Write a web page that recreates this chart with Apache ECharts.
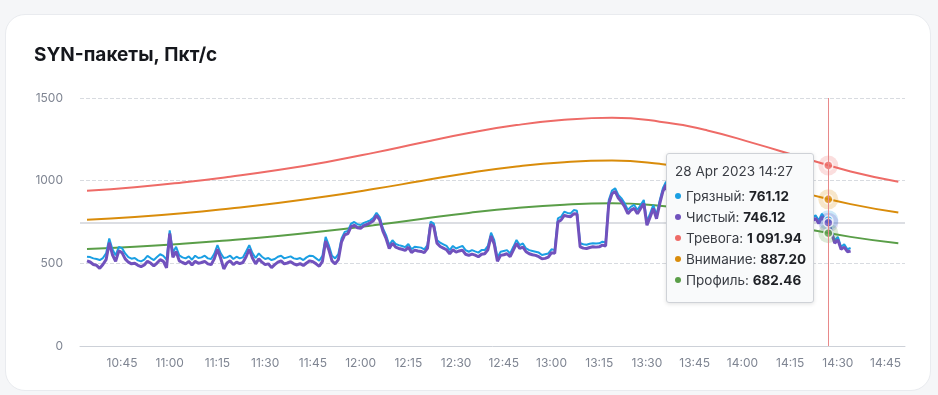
<!DOCTYPE html>
<html><head><meta charset="utf-8">
<script src="https://cdn.jsdelivr.net/npm/echarts@6.0.0/dist/echarts.min.js"></script>
<style>
html,body{margin:0;padding:0;background:#f5f6f8;width:938px;height:395px;overflow:hidden;font-family:Inter,"Noto Sans",sans-serif}
#card{position:absolute;left:5px;top:14px;width:926px;height:377px;background:#fff;border:1px solid #e9ebef;border-radius:20px;box-sizing:border-box}
#chart{position:absolute;left:0;top:0;width:938px;height:395px}
</style></head><body>
<div id="card"></div><div id="chart"></div>
<script>
// ---- data ----
const chartTitle = 'SYN-пакеты, Пкт/с';
const seriesNames = ['Грязный', 'Чистый', 'Тревога', 'Внимание', 'Профиль'];
// 1-minute samples starting 2023-04-28 10:34
const trafficStart = [2023, 3, 28, 10, 34];
const dirty = [
540,538,530,526,520,532,560,650,585,548,
600,592,560,538,528,532,518,512,522,545,
532,520,538,555,545,522,700,565,600,548,
536,530,542,522,546,532,536,546,530,526,
558,610,562,532,536,546,526,540,530,536,
572,610,562,532,560,540,526,532,520,526,
540,546,530,536,542,530,526,532,520,536,
546,544,530,516,546,660,610,546,530,556,
650,690,696,740,750,736,732,745,752,760,
775,806,780,712,671,611,640,617,610,605,
598,617,585,600,598,595,585,610,752,740,
641,625,615,605,580,605,590,598,605,580,
570,580,572,565,580,580,605,685,640,536,
570,575,580,560,600,641,610,620,590,580,
575,570,565,550,555,560,585,580,772,782,
812,805,802,822,818,621,615,612,618,621,
620,621,631,625,883,940,954,914,893,863,
823,843,853,823,853,883,752,802,853,792,
880,954,994,900,860,830,840,820,850,830,
810,820,800,830,815,805,790,820,800,810,
795,780,800,810,790,780,800,790,770,785,
790,780,770,790,800,780,770,785,790,775,
780,770,790,800,780,770,790,780,775,790,
760,800,770,761.12,700,640,660,600,615,585,
593];
const clean = [
515,508,493,488,470,493,522,625,552,512,
575,565,527,507,497,500,488,480,490,512,
502,485,502,522,512,472,680,537,572,515,
505,497,512,490,512,500,505,512,497,492,
527,585,532,466,502,515,492,507,498,505,
540,585,532,497,527,507,492,497,474,492,
507,515,497,502,510,497,490,498,487,502,
515,510,497,482,512,635,583,515,497,522,
630,672,680,722,730,715,712,728,735,745,
758,790,762,695,650,590,622,598,590,585,
578,598,565,580,575,572,565,590,735,722,
622,602,592,582,558,582,568,575,580,555,
548,556,550,540,555,558,582,665,615,512,
548,552,558,540,580,620,590,598,570,558,
552,548,540,528,530,538,565,560,750,762,
790,785,782,800,798,600,592,590,596,600,
598,600,610,605,862,920,935,895,872,842,
800,822,832,800,832,862,730,780,832,770,
860,935,975,880,840,810,820,800,830,810,
790,800,780,810,795,785,770,800,780,790,
775,760,780,790,770,760,780,770,750,765,
770,760,750,770,780,760,750,765,770,755,
760,750,770,780,760,750,770,760,755,772,
742,782,752,746.12,685,622,642,585,598,570,
575];
// thresholds, every 15 minutes starting 10:34
const thresholdStart = [2023, 3, 28, 10, 34];
const alarm   = [939,960,989,1024,1064,1112,1168,1229,1288,1336,1368,1381,1357,1304,1224,1139,1056,994];
const warning = [763,780,803,832,865,904,949,998,1047,1086,1112,1122,1102,1060,995,926,858,807];
const profile = [587,600,618,640,665,695,730,768,805,835,855,863,848,815,765,712,660,621];
// hovered moment
const hoverMoment = [2023, 3, 28, 14, 27];
const hoverValues = [761.12, 746.12, 1091.94, 887.20, 682.46];
// axis
const axisRange = [[2023, 3, 28, 10, 31, 48], [2023, 3, 28, 14, 51, 6]];
const yTicks = [0, 500, 1000, 1500];
const monthNames = ['Jan','Feb','Mar','Apr','May','Jun','Jul','Aug','Sep','Oct','Nov','Dec'];

// ---- styles ----
const colors = ['#1a9fe3', '#7152bd', '#ee6b67', '#d98c0b', '#5a9e48'];
const FONT = 'Inter, "Noto Sans", sans-serif';

function ts(a, addMin) {
  return new Date(a[0], a[1], a[2], a[3], a[4] + (addMin || 0), a[5] || 0).getTime();
}
const pad = n => (n < 10 ? '0' : '') + n;
function hhmm(v) { const d = new Date(v); return pad(d.getHours()) + ':' + pad(d.getMinutes()); }
function fmt(v) {
  const s = v.toFixed(2).split('.');
  return s[0].replace(/\B(?=(\d{3})+(?!\d))/g, ' ') + '.' + s[1];
}
const hoverTs = ts(hoverMoment);
const hd = new Date(hoverTs);
const hoverLabel = hd.getDate() + ' ' + monthNames[hd.getMonth()] + ' ' + hd.getFullYear() + ' ' + hhmm(hoverTs);

const dirtyData = dirty.map((v, i) => [ts(trafficStart, i), v]);
const cleanData = clean.map((v, i) => [ts(trafficStart, i), v]);
const thr = arr => arr.map((v, i) => [ts(thresholdStart, i * 15), v]);

const chart = echarts.init(document.getElementById('chart'), null, {renderer: 'canvas'});
const option = {
  animation: false,
  backgroundColor: 'transparent',
  title: {
    text: chartTitle, left: 29, top: 41,
    textStyle: {fontFamily: FONT, fontSize: 19, fontWeight: 700, color: '#15171c'}
  },
  grid: {left: 80, right: 33, top: 98, bottom: 49, containLabel: false, outerBoundsMode: 'none'},
  tooltip: {
    trigger: 'item', triggerOn: 'none', alwaysShowContent: true, transitionDuration: 0,
    backgroundColor: '#f9fafb', borderColor: '#cfd2d7', borderWidth: 1,
    padding: [7, 7, 11, 8],
    extraCssText: 'box-shadow:0 1px 4px rgba(0,0,0,0.12);border-radius:3px;',
    textStyle: {fontFamily: FONT, fontSize: 13.5, color: '#33363d'},
    position: (point, params, dom, rect, size) =>
      [point[0] - size.contentSize[0] - 14, point[1] - size.contentSize[1] / 2 + 5],
    formatter: () => {
      let h = '<div style="font-size:13.5px;line-height:20px;color:#3a3d44;margin-bottom:5px">' + hoverLabel + '</div>';
      seriesNames.forEach((n, i) => {
        h += '<div style="font-size:13.5px;line-height:21px;color:#3a3d44;white-space:nowrap">' +
          '<span style="display:inline-block;width:6px;height:6px;border-radius:3px;background:' + colors[i] +
          ';margin:0 5px 2px 0;vertical-align:middle"></span>' + n + ': <b style="font-weight:700;color:#1f2126">' +
          fmt(hoverValues[i]) + '</b></div>';
      });
      return h;
    }
  },
  xAxis: {
    type: 'time',
    min: ts(axisRange[0]), max: ts(axisRange[1]),
    splitNumber: 15,
    axisLine: {show: true, lineStyle: {color: '#cdd1d8', width: 1}},
    axisTick: {show: false},
    splitLine: {show: false},
    axisLabel: {
      formatter: v => hhmm(v), color: '#7f8592', fontFamily: FONT, fontSize: 12, margin: 11,
      showMinLabel: false, showMaxLabel: false
    },
    axisPointer: {
      show: true, type: 'line', value: hoverTs, status: 'show', snap: false, triggerTooltip: false,
      triggerEmphasis: false, label: {show: false}, lineStyle: {color: '#e8898a', width: 1, type: 'solid'}
    }
  },
  yAxis: {
    type: 'value', min: yTicks[0], max: yTicks[yTicks.length - 1], interval: yTicks[1] - yTicks[0],
    axisLine: {show: false}, axisTick: {show: false},
    axisLabel: {color: '#7f8592', fontFamily: FONT, fontSize: 12, margin: 17, formatter: v => String(v)},
    splitLine: {lineStyle: {type: 'dashed', color: '#d8dbe0', width: 1}},
    axisPointer: {
      show: true, type: 'line', value: hoverValues[1], status: 'show', snap: false, triggerTooltip: false,
      label: {show: false}, lineStyle: {color: '#dcdee3', width: 2, type: 'solid'}, z: 1
    }
  },
  series: [
    {name: seriesNames[0], type: 'line', data: dirtyData, showSymbol: false, symbol: 'none', silent: true,
      lineStyle: {color: colors[0], width: 2}, itemStyle: {color: colors[0]}, z: 3},
    {name: seriesNames[1], type: 'line', data: cleanData, showSymbol: false, symbol: 'none', silent: true,
      lineStyle: {color: colors[1], width: 3}, itemStyle: {color: colors[1]}, z: 4},
    {name: seriesNames[2], type: 'line', data: thr(alarm), smooth: true, showSymbol: false, symbol: 'none', silent: true,
      lineStyle: {color: colors[2], width: 2}, itemStyle: {color: colors[2]}, z: 2},
    {name: seriesNames[3], type: 'line', data: thr(warning), smooth: true, showSymbol: false, symbol: 'none', silent: true,
      lineStyle: {color: colors[3], width: 2}, itemStyle: {color: colors[3]}, z: 2},
    {name: seriesNames[4], type: 'line', data: thr(profile), smooth: true, showSymbol: false, symbol: 'none', silent: true,
      lineStyle: {color: colors[4], width: 2}, itemStyle: {color: colors[4]}, z: 2},
    {name: 'halo', type: 'scatter', symbol: 'circle', symbolSize: 20, silent: true, z: 5,
      emphasis: {disabled: true},
      data: hoverValues.map((v, i) => ({value: [hoverTs, v], itemStyle: {color: colors[i], opacity: 0.22}}))},
    {name: 'dot', type: 'scatter', symbol: 'circle', symbolSize: 9, z: 6,
      emphasis: {disabled: true},
      data: hoverValues.map((v, i) => ({value: [hoverTs, v], itemStyle: {color: colors[i], borderColor: '#fff', borderWidth: 1.5}}))}
  ]
};
chart.setOption(option);
chart.dispatchAction({type: 'showTip', seriesIndex: 6, dataIndex: 1});
</script></body></html>
